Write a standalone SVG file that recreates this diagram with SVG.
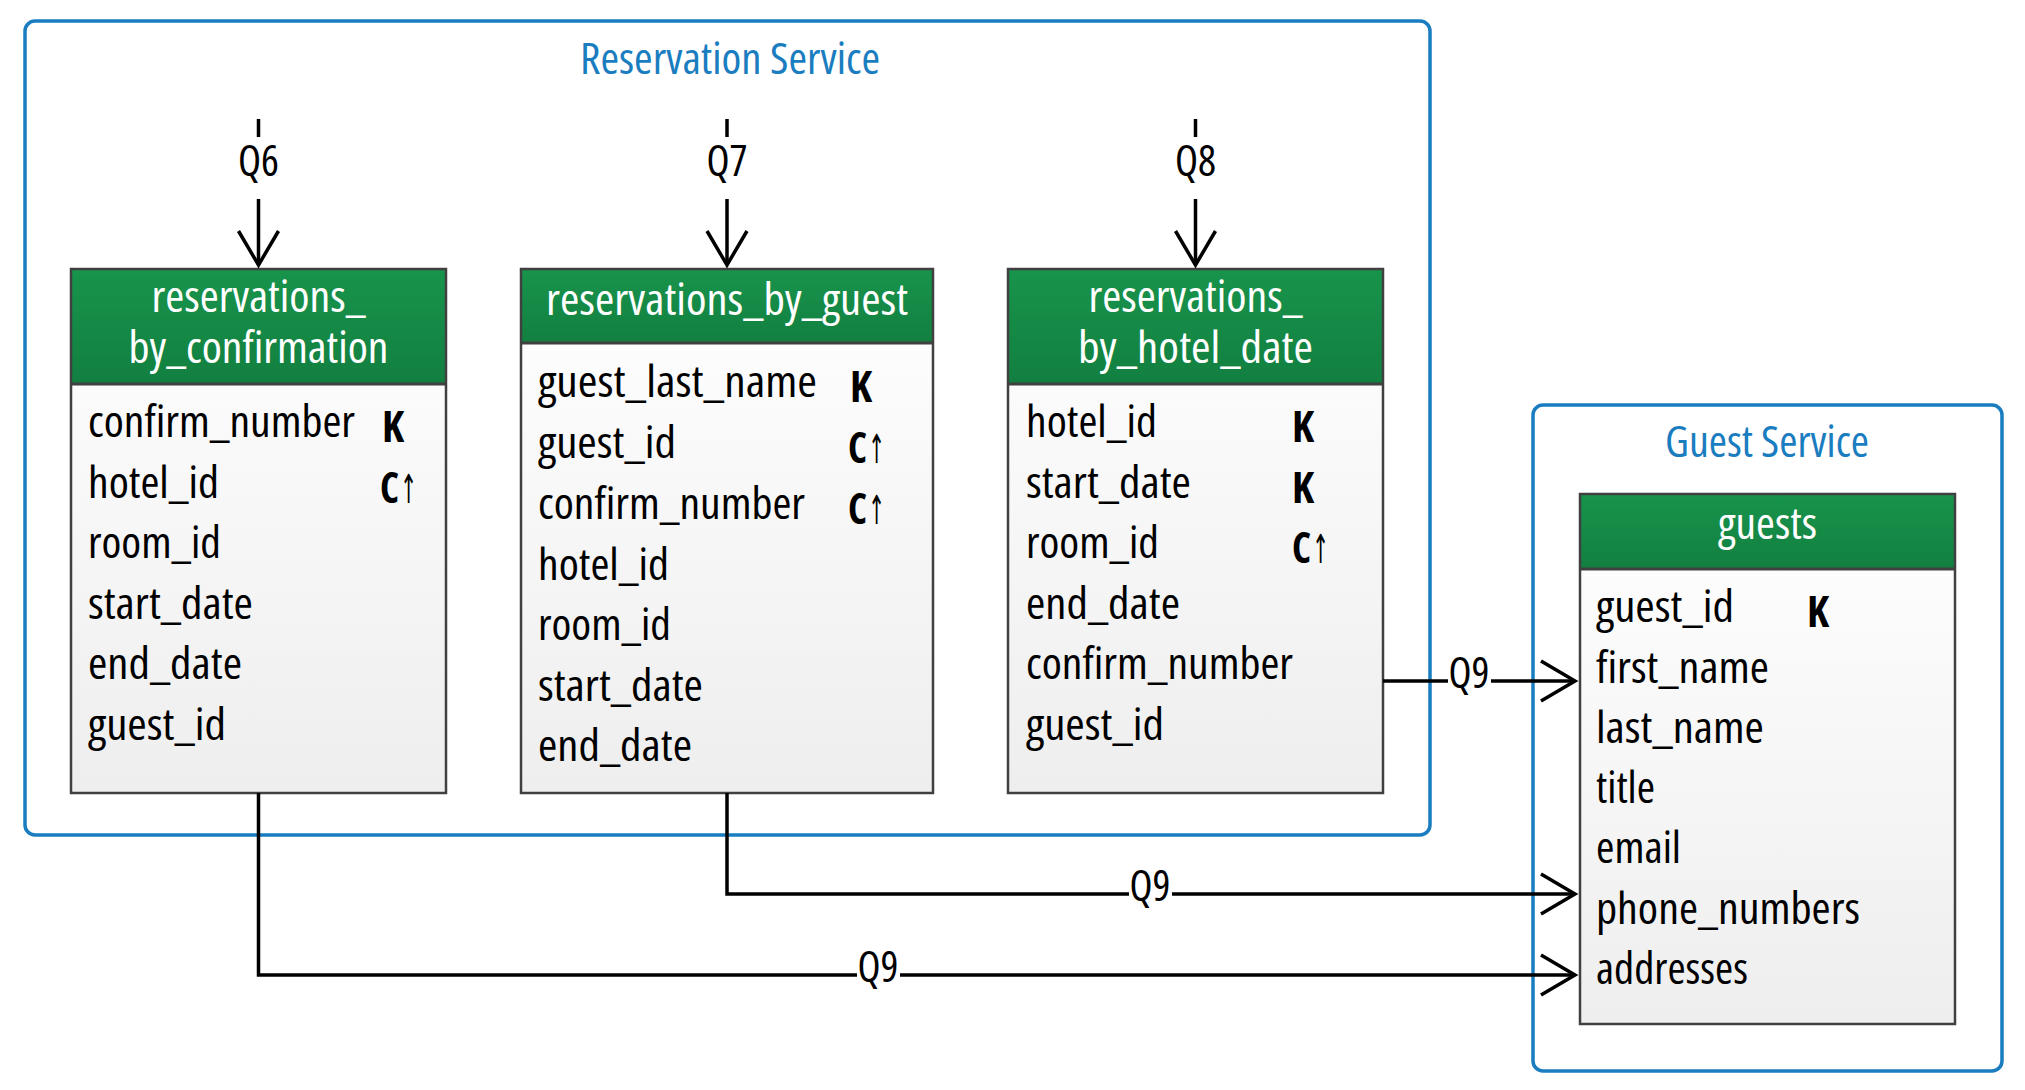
<svg xmlns="http://www.w3.org/2000/svg" width="2025" height="1090" viewBox="0 0 2025 1090">
  <style>
    text { font-family: "Liberation Sans Narrow", "Open Sans", "DejaVu Sans", sans-serif; font-stretch: condensed; }
    .f { font-size: 44px; fill: #000; }
    .k { font-size: 43px; font-weight: bold; fill: #000; }
    .ar { font-size: 40px; font-weight: normal; fill: #000; }
    .h { font-size: 44px; fill: #fff; text-anchor: middle; }
    .title { font-size: 44px; fill: #1a7dc0; text-anchor: middle; }
    .q { font-size: 44px; fill: #000; text-anchor: middle; }
    .svc { fill: none; stroke: #1a7dc0; stroke-width: 3.5; }
    .body { fill: url(#bodyGrad); }
    .head { fill: url(#headGrad); }
    .border { fill: none; stroke: #404040; stroke-width: 2.5; }
    .sep { stroke: #404040; stroke-width: 3; }
    .conn { fill: none; stroke: #000; stroke-width: 3.5; }
    .lblbg { fill: #fff; }
  </style>
  <defs>
    <linearGradient id="bodyGrad" x1="0" y1="0" x2="0" y2="1">
      <stop offset="0" stop-color="#ffffff"/>
      <stop offset="1" stop-color="#eeeeee"/>
    </linearGradient>
    <linearGradient id="headGrad" x1="0" y1="0" x2="0" y2="1">
      <stop offset="0" stop-color="#18944c"/>
      <stop offset="1" stop-color="#127f40"/>
    </linearGradient>
    <marker id="arrow" markerUnits="userSpaceOnUse" viewBox="-42 -26 48 52" refX="0" refY="0" markerWidth="48" markerHeight="52" orient="auto">
      <path d="M-34,-20 L0,0 L-34,20" fill="none" stroke="#000" stroke-width="3.5"/>
    </marker>
  </defs>

  <rect width="2025" height="1090" fill="#fff"/>

  <!-- Service containers -->
  <g id="reservation-service">
    <rect class="svc" x="25" y="21" width="1405" height="814" rx="10"/>
    <text class="title" x="730" y="74" textLength="300" lengthAdjust="spacingAndGlyphs">Reservation Service</text>
  </g>
  <g id="guest-service">
    <rect class="svc" x="1533" y="405" width="469" height="666" rx="10"/>
    <text class="title" x="1767" y="457" textLength="204" lengthAdjust="spacingAndGlyphs">Guest Service</text>
  </g>

  <!-- Table: reservations_by_confirmation -->
  <g id="reservations_by_confirmation">
    <rect class="body" x="71" y="269" width="375" height="524"/>
    <rect class="head" x="71" y="269" width="375" height="115"/>
    <line class="sep" x1="71" y1="384" x2="446" y2="384"/>
    <rect class="border" x="71" y="269" width="375" height="524"/>
    <text class="h" x="258.5" y="312" textLength="214" lengthAdjust="spacingAndGlyphs">reservations_</text>
    <text class="h" x="258.5" y="363" textLength="260" lengthAdjust="spacingAndGlyphs">by_confirmation</text>
    <text class="f" x="88" y="437" textLength="267" lengthAdjust="spacingAndGlyphs">confirm_number</text>
    <text class="f" x="88" y="498" textLength="131" lengthAdjust="spacingAndGlyphs">hotel_id</text>
    <text class="f" x="88" y="558" textLength="133" lengthAdjust="spacingAndGlyphs">room_id</text>
    <text class="f" x="88" y="619" textLength="165" lengthAdjust="spacingAndGlyphs">start_date</text>
    <text class="f" x="88" y="679" textLength="154" lengthAdjust="spacingAndGlyphs">end_date</text>
    <text class="f" x="88" y="740" textLength="138" lengthAdjust="spacingAndGlyphs">guest_id</text>
    <text class="k" x="382" y="442" textLength="22" lengthAdjust="spacingAndGlyphs">K</text>
    <text class="k" x="380" y="503" textLength="19" lengthAdjust="spacingAndGlyphs">C</text>
    <text class="ar" x="400" y="503" textLength="17" lengthAdjust="spacingAndGlyphs">↑</text>
  </g>

  <!-- Table: reservations_by_guest -->
  <g id="reservations_by_guest">
    <rect class="body" x="521" y="269" width="412" height="524"/>
    <rect class="head" x="521" y="269" width="412" height="74"/>
    <line class="sep" x1="521" y1="343" x2="933" y2="343"/>
    <rect class="border" x="521" y="269" width="412" height="524"/>
    <text class="h" x="727" y="315" textLength="362" lengthAdjust="spacingAndGlyphs">reservations_by_guest</text>
    <text class="f" x="538" y="397" textLength="279" lengthAdjust="spacingAndGlyphs">guest_last_name</text>
    <text class="f" x="538" y="458" textLength="138" lengthAdjust="spacingAndGlyphs">guest_id</text>
    <text class="f" x="538" y="519" textLength="267" lengthAdjust="spacingAndGlyphs">confirm_number</text>
    <text class="f" x="538" y="580" textLength="131" lengthAdjust="spacingAndGlyphs">hotel_id</text>
    <text class="f" x="538" y="640" textLength="133" lengthAdjust="spacingAndGlyphs">room_id</text>
    <text class="f" x="538" y="701" textLength="165" lengthAdjust="spacingAndGlyphs">start_date</text>
    <text class="f" x="538" y="761" textLength="154" lengthAdjust="spacingAndGlyphs">end_date</text>
    <text class="k" x="850" y="402" textLength="22" lengthAdjust="spacingAndGlyphs">K</text>
    <text class="k" x="848" y="463" textLength="19" lengthAdjust="spacingAndGlyphs">C</text>
    <text class="ar" x="868" y="463" textLength="17" lengthAdjust="spacingAndGlyphs">↑</text>
    <text class="k" x="848" y="524" textLength="19" lengthAdjust="spacingAndGlyphs">C</text>
    <text class="ar" x="868" y="524" textLength="17" lengthAdjust="spacingAndGlyphs">↑</text>
  </g>

  <!-- Table: reservations_by_hotel_date -->
  <g id="reservations_by_hotel_date">
    <rect class="body" x="1008" y="269" width="375" height="524"/>
    <rect class="head" x="1008" y="269" width="375" height="115"/>
    <line class="sep" x1="1008" y1="384" x2="1383" y2="384"/>
    <rect class="border" x="1008" y="269" width="375" height="524"/>
    <text class="h" x="1195.5" y="312" textLength="214" lengthAdjust="spacingAndGlyphs">reservations_</text>
    <text class="h" x="1195.5" y="363" textLength="235" lengthAdjust="spacingAndGlyphs">by_hotel_date</text>
    <text class="f" x="1026" y="437" textLength="131" lengthAdjust="spacingAndGlyphs">hotel_id</text>
    <text class="f" x="1026" y="498" textLength="165" lengthAdjust="spacingAndGlyphs">start_date</text>
    <text class="f" x="1026" y="558" textLength="133" lengthAdjust="spacingAndGlyphs">room_id</text>
    <text class="f" x="1026" y="619" textLength="154" lengthAdjust="spacingAndGlyphs">end_date</text>
    <text class="f" x="1026" y="679" textLength="267" lengthAdjust="spacingAndGlyphs">confirm_number</text>
    <text class="f" x="1026" y="740" textLength="138" lengthAdjust="spacingAndGlyphs">guest_id</text>
    <text class="k" x="1292" y="442" textLength="22" lengthAdjust="spacingAndGlyphs">K</text>
    <text class="k" x="1292" y="503" textLength="22" lengthAdjust="spacingAndGlyphs">K</text>
    <text class="k" x="1292" y="563" textLength="19" lengthAdjust="spacingAndGlyphs">C</text>
    <text class="ar" x="1312" y="563" textLength="17" lengthAdjust="spacingAndGlyphs">↑</text>
  </g>

  <!-- Table: guests -->
  <g id="guests">
    <rect class="body" x="1580" y="494" width="375" height="530"/>
    <rect class="head" x="1580" y="494" width="375" height="75"/>
    <line class="sep" x1="1580" y1="569" x2="1955" y2="569"/>
    <rect class="border" x="1580" y="494" width="375" height="530"/>
    <text class="h" x="1767.5" y="539" textLength="99" lengthAdjust="spacingAndGlyphs">guests</text>
    <text class="f" x="1596" y="622" textLength="138" lengthAdjust="spacingAndGlyphs">guest_id</text>
    <text class="f" x="1596" y="683" textLength="173" lengthAdjust="spacingAndGlyphs">first_name</text>
    <text class="f" x="1596" y="743" textLength="168" lengthAdjust="spacingAndGlyphs">last_name</text>
    <text class="f" x="1596" y="803" textLength="59" lengthAdjust="spacingAndGlyphs">title</text>
    <text class="f" x="1596" y="863" textLength="85" lengthAdjust="spacingAndGlyphs">email</text>
    <text class="f" x="1596" y="924" textLength="264" lengthAdjust="spacingAndGlyphs">phone_numbers</text>
    <text class="f" x="1596" y="984" textLength="152" lengthAdjust="spacingAndGlyphs">addresses</text>
    <text class="k" x="1807" y="627" textLength="22" lengthAdjust="spacingAndGlyphs">K</text>
  </g>

  <!-- Connectors -->
  <g id="connectors">
    <path class="conn" d="M258.5,119 V265" marker-end="url(#arrow)"/>
    <path class="conn" d="M727,119 V265" marker-end="url(#arrow)"/>
    <path class="conn" d="M1195.5,119 V265" marker-end="url(#arrow)"/>
    <path class="conn" d="M1383,681 H1575" marker-end="url(#arrow)"/>
    <path class="conn" d="M727,793 V894 H1575" marker-end="url(#arrow)"/>
    <path class="conn" d="M258.5,793 V975 H1575" marker-end="url(#arrow)"/>

    <rect class="lblbg" x="234" y="137" width="49" height="62"/>
    <text class="q" x="258.5" y="176" textLength="41" lengthAdjust="spacingAndGlyphs">Q6</text>
    <rect class="lblbg" x="703" y="137" width="49" height="62"/>
    <text class="q" x="727" y="176" textLength="41" lengthAdjust="spacingAndGlyphs">Q7</text>
    <rect class="lblbg" x="1171" y="137" width="49" height="62"/>
    <text class="q" x="1195.5" y="176" textLength="41" lengthAdjust="spacingAndGlyphs">Q8</text>

    <rect class="lblbg" x="1448" y="650" width="43" height="52"/>
    <text class="q" x="1469" y="688" textLength="41" lengthAdjust="spacingAndGlyphs">Q9</text>
    <rect class="lblbg" x="1129" y="863" width="43" height="52"/>
    <text class="q" x="1150" y="901" textLength="41" lengthAdjust="spacingAndGlyphs">Q9</text>
    <rect class="lblbg" x="857" y="944" width="43" height="52"/>
    <text class="q" x="878" y="982" textLength="41" lengthAdjust="spacingAndGlyphs">Q9</text>
  </g>
</svg>
